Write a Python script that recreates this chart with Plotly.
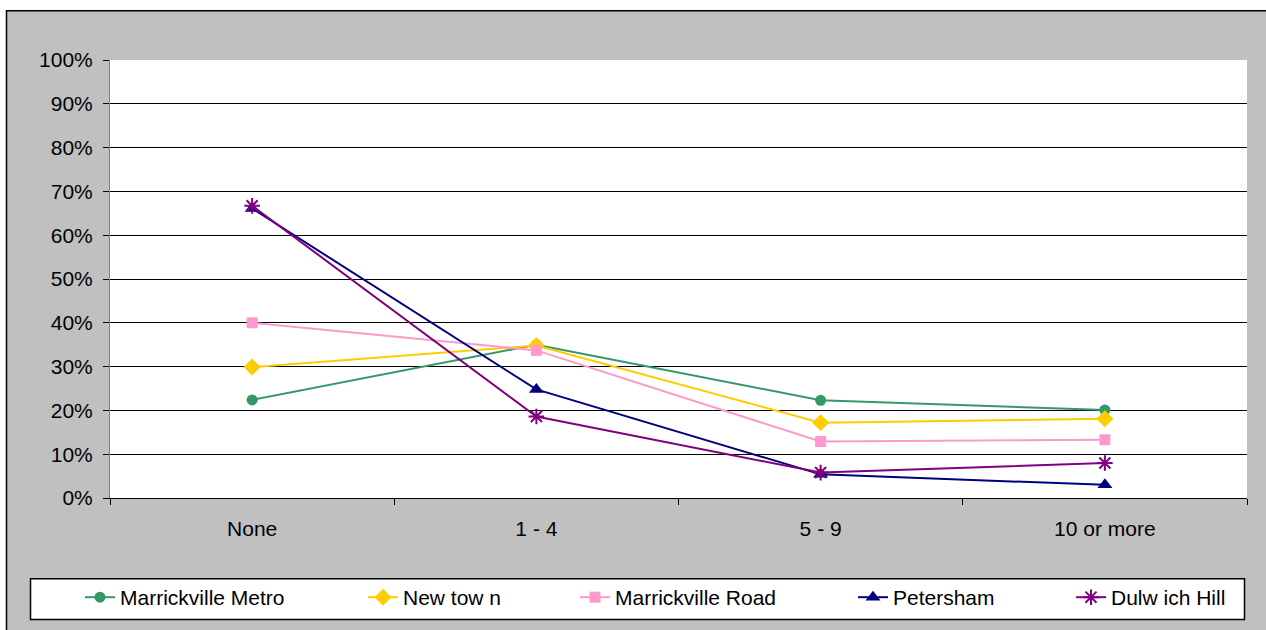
import plotly.graph_objects as go

# Number of visits, share of respondents per centre
categories = ["None", "1 - 4", "5 - 9", "10 or more"]
marrickville_metro = [0.224, 0.350, 0.223, 0.201]
newtown = [0.299, 0.348, 0.172, 0.181]
marrickville_road = [0.400, 0.337, 0.129, 0.133]
petersham = [0.661, 0.248, 0.054, 0.030]
dulwich_hill = [0.667, 0.186, 0.058, 0.080]

series_names = ["Marrickville Metro", "New tow n", "Marrickville Road", "Petersham", "Dulw ich Hill"]
y_ticks = [i / 10 for i in range(11)]

W, H = 1266, 630
L, R, T, B = 110, 1247, 60, 500  # plot area in pixels


def px_x(p):
    return (p - L) / (R - L)


def px_y(p):
    return (B - p) / (B - T)


styles = [
    dict(color="#339966", symbol="circle", size=11),
    dict(color="#FFCC00", symbol="diamond", size=13),
    dict(color="#FF99CC", symbol="square", size=11),
    dict(color="#000080", symbol="triangle-up", size=13),
    dict(color="#800080", symbol="asterisk-open", size=13),
]
values = [marrickville_metro, newtown, marrickville_road, petersham, dulwich_hill]
legend_ids = ["legend", "legend2", "legend3", "legend4", "legend5"]
legend_text_x = [120, 403, 615, 893, 1111]

fig = go.Figure()
for name, vals, st, lg in zip(series_names, values, styles, legend_ids):
    marker = dict(color=st["color"], symbol=st["symbol"], size=st["size"])
    if st["symbol"].endswith("open"):
        marker["line"] = dict(color=st["color"], width=2)
    fig.add_trace(go.Scatter(
        x=categories, y=vals, name=name, mode="lines+markers",
        line=dict(color=st["color"], width=2),
        marker=marker, legend=lg, cliponaxis=False,
    ))

font = dict(family="Liberation Sans, Arial, sans-serif", size=21, color="#000000")

shapes = [
    # grey chart frame
    dict(type="rect", xref="paper", yref="paper", layer="below",
         x0=px_x(6.5), x1=px_x(1300), y0=px_y(700), y1=px_y(10.5),
         fillcolor="#C0C0C0", line=dict(color="#000000", width=1.5)),
    # white plot area
    dict(type="rect", xref="paper", yref="paper", layer="below",
         x0=0, x1=1, y0=0, y1=1, fillcolor="#FFFFFF", line=dict(width=0)),
    # legend box
    dict(type="rect", xref="paper", yref="paper", layer="below",
         x0=px_x(30.5), x1=px_x(1244.5), y0=px_y(622), y1=px_y(581),
         fillcolor="#FFFFFF", line=dict(color="#000000", width=1.5)),
]

layout_legends = {}
for lg, tx in zip(legend_ids, legend_text_x):
    layout_legends[lg] = dict(
        x=px_x(tx - 40), xanchor="left", y=px_y(600), yanchor="middle",
        orientation="h", bgcolor="rgba(0,0,0,0)", borderwidth=0,
        font=font, itemwidth=30,
    )

fig.update_layout(
    width=W, height=H,
    margin=dict(l=L, r=W - R, t=T, b=H - B, pad=0),
    paper_bgcolor="#FFFFFF", plot_bgcolor="rgba(0,0,0,0)",
    font=font, showlegend=True, shapes=shapes,
    **layout_legends,
)

fig.update_xaxes(
    type="category", range=[-0.5, 3.5], tickson="boundaries",
    ticks="outside", ticklen=6, tickcolor="#000000", tickwidth=1,
    showline=True, linecolor="#000000", linewidth=1,
    showgrid=False, zeroline=False, tickfont=font, ticklabelstandoff=12,
)
fig.update_yaxes(
    range=[0, 1], tickvals=y_ticks, tickformat=".0%",
    ticks="outside", ticklen=6, tickcolor="#000000", tickwidth=1,
    showline=True, linecolor="#808080", linewidth=1,
    showgrid=True, gridcolor="#000000", gridwidth=1,
    zeroline=False, tickfont=font, ticklabelstandoff=6,
)

fig.write_html("out.html")
